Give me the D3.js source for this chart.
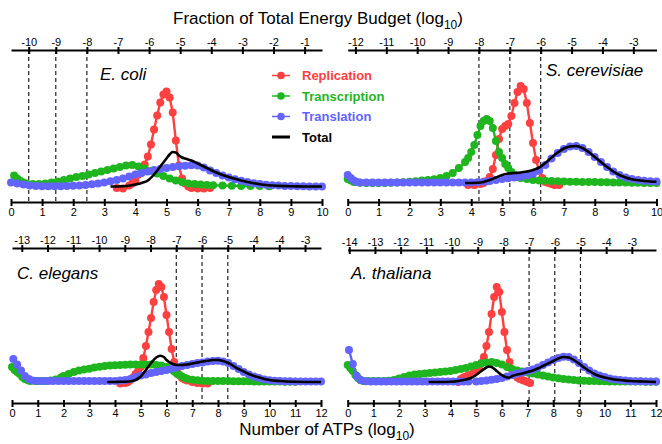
<!DOCTYPE html>
<html>
<head>
<meta charset="utf-8">
<script src="https://cdn.jsdelivr.net/npm/d3@7"></script>
<style>
body { margin: 0; background: #fff; }
text { font-family: Arial, "Liberation Sans", sans-serif; fill: #000; }
</style>
</head>
<body>
<svg id="svg"></svg>
<script>
var width = 662, height = 444;
var svg = d3.select("#svg").attr("width", width).attr("height", height);

var colors = {rep: "#ff4040", trans: "#1fb51f", transl: "#6363ff", total: "#000"};
var legendNames = ["Replication", "Transcription", "Translation", "Total"];

// E. coli  [log10 ATPs, relative density]
var ecoliRep = [[3.4,-1.5],[3.6,-2],[3.8,1],[3.9,3],[4.0,6],[4.1,12],[4.2,17],[4.3,22],[4.4,30],[4.5,42],[4.6,57],[4.7,71],[4.8,84],[4.9,92],[5.0,95],[5.1,89],[5.2,74],[5.3,46],[5.4,21],[5.5,8],[5.6,3],[5.7,0],[5.8,-1.5],[6.0,-2],[6.2,-2],[6.4,-1.5]];
var ecoliTrans = [[0.1,11],[0.2,8],[0.3,5.5],[0.4,4],[0.5,3],[0.7,2.5],[0.9,2.5],[1.1,3],[1.3,4],[1.5,5],[1.7,6.5],[1.9,8],[2.1,9.5],[2.3,10.5],[2.5,12],[2.7,13.5],[2.9,15],[3.1,16.5],[3.3,18],[3.5,19.5],[3.7,21],[3.9,21.5],[4.1,20],[4.3,18],[4.5,15.5],[4.7,13],[4.9,10.5],[5.1,8],[5.3,6],[5.5,4.5],[5.7,3],[5.9,2.5],[6.1,2],[6.3,1.5],[6.5,1.2],[6.8,1],[7.1,0.8],[7.4,0.6],[7.7,0.5],[8.0,0.4],[8.3,0.3]];
var ecoliTransl = [[0,4],[0.2,3],[0.4,2],[0.6,1],[0.8,0.5],[1.0,0.3],[1.2,0.3],[1.4,0.3],[1.6,0.3],[1.8,0.5],[2.0,0.7],[2.2,1],[2.4,1.5],[2.6,2.2],[2.8,3],[3.0,4],[3.2,5.3],[3.4,6.6],[3.6,8],[3.8,10],[4.0,12],[4.2,13.5],[4.4,15],[4.6,16.5],[4.8,17.5],[5.0,18.5],[5.2,19.5],[5.4,20.2],[5.6,20.8],[5.8,21.3],[6.0,21],[6.2,19],[6.4,16],[6.6,13.5],[6.8,11],[7.0,9],[7.2,7.3],[7.4,5.8],[7.6,4.5],[7.8,3.3],[8.0,2.4],[8.2,1.7],[8.4,1.2],[8.6,0.9],[8.8,0.6],[9.0,0.5],[9.2,0.3],[9.4,0.2],[9.6,0.1],[9.8,0],[10,0]];
var ecoliTotal = [[3.2,0],[3.6,0.3],[4.0,2],[4.2,3.5],[4.4,6],[4.6,12],[4.8,20],[5.0,28],[5.1,32],[5.2,34.5],[5.3,34],[5.4,31],[5.5,29],[5.6,28],[5.8,26],[6.0,23],[6.2,20],[6.4,17],[6.6,14],[6.8,11.5],[7.0,9.5],[7.2,7.7],[7.4,6],[7.6,4.5],[7.8,3.3],[8.0,2.3],[8.2,1.5],[8.4,1],[8.6,0.6],[8.8,0.4],[9.0,0.3],[9.5,0],[10,0]];

// S. cerevisiae
var scerRep = [[3.9,-2],[4.1,-2],[4.3,-1],[4.4,0],[4.5,2],[4.6,6],[4.7,14],[4.8,28],[4.9,44],[5.0,54],[5.1,57],[5.2,59],[5.3,67],[5.4,80],[5.5,91],[5.6,97],[5.7,94],[5.8,80],[5.9,60],[6.0,40],[6.1,23],[6.2,12],[6.3,5],[6.4,1],[6.5,0],[6.6,-1],[6.7,-2],[6.85,-2]];
var scerTrans = [[0,4],[0.1,2.5],[0.2,1],[0.4,0.3],[0.6,0],[0.8,0],[1.0,0],[1.2,0],[1.4,0.2],[1.6,0.5],[1.8,0.8],[2.0,1.2],[2.2,1.8],[2.4,2.4],[2.6,3],[2.8,3.8],[3.0,5],[3.2,7],[3.4,10],[3.6,15],[3.8,21],[3.9,25],[4.0,31],[4.1,38],[4.2,48],[4.3,57],[4.4,62],[4.5,64],[4.6,62],[4.7,55],[4.8,42],[4.9,31],[5.0,25],[5.1,19],[5.2,15],[5.3,11],[5.4,8],[5.5,6],[5.6,5],[5.8,4],[6.0,3],[6.2,2.5],[6.4,2.2],[6.6,2],[6.8,1.7],[7.0,1.5],[7.2,1.3],[7.4,1.2],[7.6,1.1],[7.8,1],[8.0,0.9],[8.2,0.8],[8.4,0.7],[8.6,0.6],[8.8,0.5],[9.0,0.4],[9.2,0.3],[9.4,0.2],[9.6,0.1],[9.8,0],[10,0]];
var scerTransl = [[0,8],[0.1,5],[0.2,2.5],[0.3,1],[0.4,0.5],[0.6,0.5],[0.8,0.5],[1.0,0.5],[1.2,0.5],[1.4,0.5],[1.6,0.5],[1.8,0.5],[2.0,0.5],[2.2,0.5],[2.4,0.5],[2.6,0.5],[2.8,0.5],[3.0,0.5],[3.2,0.5],[3.4,0.5],[3.6,0.5],[3.8,0.5],[4.0,0.5],[4.2,0.8],[4.4,1.2],[4.6,2],[4.8,3],[5.0,4],[5.2,4.8],[5.4,5.5],[5.6,6.2],[5.8,7.5],[6.0,9],[6.2,12.5],[6.4,18],[6.6,24.5],[6.8,30],[7.0,34],[7.2,36.5],[7.4,37],[7.6,35],[7.8,31],[8.0,26],[8.2,21],[8.4,16],[8.6,11.5],[8.8,8],[9.0,5.5],[9.2,4],[9.4,3],[9.6,2.3],[9.8,1.8],[10,1.5]];
var scerTotal = [[3.8,0],[4.2,0.3],[4.4,1],[4.6,3],[4.8,5.5],[5.0,8],[5.2,9.5],[5.4,10],[5.6,10.5],[5.8,11.5],[6.0,13],[6.2,15.5],[6.4,20],[6.6,25.5],[6.8,30.5],[7.0,34.5],[7.2,36.5],[7.4,37],[7.6,35],[7.8,31],[8.0,26],[8.2,21],[8.4,16],[8.6,11.5],[8.8,8],[9.0,5.5],[9.2,3.8],[9.4,2.7],[9.6,2],[9.8,1.5],[10,1.2]];

// C. elegans
var celeRep = [[4.2,-1.5],[4.4,-1],[4.5,0],[4.6,2],[4.7,4.5],[4.8,8],[4.9,11],[5.0,15],[5.1,24],[5.2,36],[5.3,50],[5.4,64],[5.5,80],[5.6,92],[5.7,98],[5.8,95],[5.9,85],[6.0,67],[6.1,50],[6.2,33],[6.3,20],[6.4,11],[6.5,7],[6.6,4],[6.7,2.5],[6.8,1.5],[7.0,0],[7.2,-1],[7.4,-1.5],[7.6,-1.5]];
var celeTrans = [[0,15],[0.1,12],[0.2,10],[0.3,8],[0.4,5],[0.5,3],[0.6,2],[0.7,1],[0.9,1],[1.1,1],[1.3,1],[1.5,1.5],[1.7,2.5],[1.9,4.5],[2.0,6],[2.2,8],[2.4,10],[2.6,11.5],[2.8,12.5],[3.0,13.3],[3.2,14.5],[3.4,15.3],[3.6,16],[3.8,16.5],[4.0,16.8],[4.2,17],[4.4,17.2],[4.6,17.4],[4.8,17.5],[5.0,17.5],[5.2,17.5],[5.4,17.5],[5.6,17],[5.8,16.5],[6.0,15],[6.1,14],[6.2,12.5],[6.3,10.5],[6.4,8.5],[6.5,7],[6.6,5.5],[6.7,4.3],[6.8,3.3],[7.0,2.3],[7.2,1.7],[7.4,1.3],[7.6,1.1],[7.8,1],[8.0,1],[8.2,0.9],[8.4,0.9],[8.6,0.8],[8.8,0.8],[9.0,0.7],[9.2,0.7],[9.4,0.6],[9.6,0.6],[9.8,0.5],[10.0,0.5],[10.2,0.4],[10.4,0.4],[10.6,0.3],[10.8,0.3],[11.0,0.3]];
var celeTransl = [[0.05,23],[0.2,17.5],[0.35,11.5],[0.5,6],[0.65,3],[0.8,1.5],[1.0,1],[1.2,1],[1.4,1],[1.6,1],[1.8,1],[2.0,1],[2.2,1],[2.4,1],[2.6,1],[2.8,1],[3.0,1],[3.2,1],[3.4,1],[3.6,1],[3.8,1],[4.0,1],[4.2,1.5],[4.4,2],[4.6,3],[4.8,5],[5.0,6.5],[5.2,7.5],[5.4,9],[5.6,10],[5.8,11],[6.0,12],[6.2,13.5],[6.4,14.5],[6.6,16],[6.8,17],[7.0,18],[7.2,19],[7.4,19.5],[7.6,20.5],[7.8,21],[8.0,21.3],[8.2,20.5],[8.4,19],[8.6,16],[8.8,13],[9.0,10],[9.2,7.5],[9.4,5.5],[9.6,4],[9.8,2.5],[10.0,1.7],[10.2,1.3],[10.4,1],[10.6,0.8],[10.8,0.7],[11.0,0.6],[11.2,0.6],[11.4,0.5],[11.6,0.5],[11.8,0.5],[12.0,0.5]];
var celeTotal = [[3.7,0],[4.0,0],[4.2,0.2],[4.4,0.3],[4.6,0.7],[4.8,2],[5.0,5.5],[5.2,12],[5.4,19],[5.6,24.5],[5.75,26.3],[5.9,25],[6.0,22],[6.2,18.5],[6.4,17],[6.6,17],[6.8,17.5],[7.0,18.5],[7.2,19.5],[7.4,20.5],[7.6,21.3],[7.8,22],[8.0,22],[8.2,21],[8.4,19],[8.6,16],[8.8,13],[9.0,10.5],[9.2,8],[9.4,6],[9.6,4.5],[9.8,3],[10.0,2],[10.4,1],[11.0,0.3],[12,0]];

// A. thaliana
var athaRep = [[4.3,0],[4.4,3],[4.5,4.5],[4.6,5.5],[4.7,6.5],[4.8,7.5],[4.9,9],[5.0,10.5],[5.1,14],[5.2,19],[5.3,25],[5.4,36],[5.5,50],[5.6,68],[5.7,85],[5.8,95],[5.9,90],[6.0,70],[6.1,50],[6.2,32],[6.3,20],[6.4,12],[6.5,7],[6.6,4.5],[6.7,3],[6.8,2],[6.9,1],[7.0,0],[7.1,-1]];
var athaTrans = [[0,17],[0.1,14],[0.2,11],[0.3,7],[0.4,4],[0.5,2],[0.6,1],[0.8,1],[1.0,1],[1.2,1],[1.4,1],[1.6,1.2],[1.8,2],[2.0,3.5],[2.2,5],[2.4,6.5],[2.6,7.5],[2.8,8],[3.0,8.5],[3.2,9],[3.4,9.5],[3.6,10],[3.8,10.5],[4.0,11],[4.2,12],[4.4,13],[4.6,14],[4.8,15.5],[5.0,17],[5.2,18.5],[5.4,19.5],[5.6,20],[5.8,19],[6.0,17.5],[6.2,15],[6.4,13],[6.6,11.5],[6.8,10.5],[7.0,9.5],[7.2,8.5],[7.4,7.5],[7.6,6.5],[7.8,5.5],[8.0,4.5],[8.2,3.8],[8.4,3],[8.6,2.5],[8.8,2],[9.0,1.5],[9.2,1.2],[9.4,1],[9.6,0.9],[9.8,0.8],[10.0,0.7],[10.2,0.6],[10.4,0.6],[10.6,0.5],[10.8,0.5],[11.0,0.5],[11.2,0.4],[11.4,0.4],[11.6,0.3],[11.8,0.3],[12.0,0.3]];
var athaTransl = [[0.05,32],[0.2,18],[0.35,6],[0.5,2],[0.7,0.7],[0.9,0.5],[1.1,0.5],[1.3,0.5],[1.5,0.5],[1.7,0.5],[1.9,0.5],[2.1,0.5],[2.3,0.5],[2.5,0.5],[2.7,0.5],[2.9,0.5],[3.1,0.5],[3.3,0.5],[3.5,0.5],[3.7,0.5],[3.9,0.5],[4.1,0.5],[4.3,0.5],[4.5,0.5],[4.7,0.5],[5.0,0.5],[5.2,1],[5.4,1.5],[5.6,2.3],[5.8,3],[6.0,4],[6.2,5.5],[6.4,7],[6.6,8.5],[6.8,9.5],[7.0,11],[7.2,12.5],[7.4,14.5],[7.6,17],[7.8,19.5],[8.0,22],[8.2,24],[8.4,25.3],[8.6,25],[8.8,22.5],[9.0,19],[9.2,15],[9.4,11.5],[9.6,8.5],[9.8,6.5],[10.0,5],[10.2,3.5],[10.4,2.5],[10.6,2],[10.8,1.5],[11.0,1],[11.2,0.8],[11.4,0.7],[11.6,0.6],[11.8,0.5],[12.0,0.5]];
var athaTotal = [[3.15,0],[3.5,0],[4.0,0.3],[4.3,1],[4.6,2.5],[4.8,4],[5.0,7],[5.2,11],[5.4,14.5],[5.5,15.5],[5.6,15],[5.8,11],[6.0,7],[6.2,4.5],[6.3,4.5],[6.4,6],[6.6,7.5],[6.8,8.5],[7.0,10],[7.2,11.5],[7.4,13.5],[7.6,16],[7.8,18.5],[8.0,21],[8.2,23.5],[8.4,25],[8.6,24.5],[8.8,22],[9.0,18.5],[9.2,14.5],[9.4,11],[9.6,8],[9.8,6],[10.0,4.5],[10.2,3.5],[10.4,2.5],[10.6,2],[11.0,1],[11.5,0.5],[12,0]];

// top axis (fraction of energy budget, log10) tick positions & labels
var ecoliTopTicks = [-9.87,-9,-8,-7,-6,-5,-4,-3,-2,-1];
var ecoliTopLabels = ["-10","-9","-8","-7","-6","-5","-4","-3","-2","-1"];
var scerTopTicks = [-12,-11,-10,-9,-8,-7,-6,-5,-4,-3];
var celeTopTicks = [-13,-12,-11,-10,-9,-8,-7,-6,-5,-4,-3,-2];
var celeTopLabels = ["-13","-12","-11","-10","-9","-8","-7","-6","-5","-4","-4","-3"];
var athaTopTicks = [-14,-13,-12,-11,-10,-9,-8,-7,-6,-5,-4,-3];
// offset between the two scales (log10 total budget)
var ecoliOffset = 10.44, scerOffset = 12.25, celeOffset = 13.38, athaOffset = 14.06;
var ecoliDashes = [-9.87,-9,-8], scerDashes = [-8,-7,-6], celeDashes = [-7,-6,-5], athaDashes = [-7,-6,-5];

var panels = [
	{name: "E. coli", series: [ecoliRep, ecoliTrans, ecoliTransl, ecoliTotal], xMax: 10, topTicks: ecoliTopTicks, topLabels: ecoliTopLabels, offset: ecoliOffset, dashes: ecoliDashes,
	 x0: 11, x1: 322, top: 50, bottom: 202, base: 186.5, lx: 100, ly: 80},
	{name: "S. cerevisiae", series: [scerRep, scerTrans, scerTransl, scerTotal], xMax: 10, topTicks: scerTopTicks, topLabels: null, offset: scerOffset, dashes: scerDashes,
	 x0: 347.7, x1: 656.5, top: 50, bottom: 202, base: 183, lx: 546, ly: 76},
	{name: "C. elegans", series: [celeRep, celeTrans, celeTransl, celeTotal], xMax: 12, topTicks: celeTopTicks, topLabels: celeTopLabels, offset: celeOffset, dashes: celeDashes,
	 x0: 12, x1: 321, top: 248, bottom: 403, base: 382, lx: 17, ly: 279},
	{name: "A. thaliana", series: [athaRep, athaTrans, athaTransl, athaTotal], xMax: 12, topTicks: athaTopTicks, topLabels: null, offset: athaOffset, dashes: athaDashes,
	 x0: 347.7, x1: 656, top: 250, bottom: 403, base: 382, lx: 351, ly: 279}
];

var keys = ["rep", "trans", "transl", "total"];

panels.forEach(function(p) {
	var g = svg.append("g");
	var x = d3.scaleLinear().domain([0, p.xMax]).range([p.x0, p.x1]);
	var xTop = d3.scaleLinear().domain([-p.offset, p.xMax - p.offset]).range([p.x0, p.x1]);
	var y = d3.scaleLinear().domain([0, 100]).range([p.base, p.base - 100]);

	// dashed reference lines
	g.selectAll("line.dash")
		.data(p.dashes)
		.enter().append("line")
		.attr("class", "dash")
		.attr("x1", function(d) { return xTop(d); })
		.attr("x2", function(d) { return xTop(d); })
		.attr("y1", p.top)
		.attr("y2", p.bottom)
		.attr("stroke", "#222")
		.attr("stroke-width", 1.2)
		.attr("stroke-dasharray", "4,3");

	var line = d3.line()
		.x(function(d) { return x(d[0]); })
		.y(function(d) { return y(d[1]); });

	p.series.forEach(function(s, i) {
		var key = keys[i];
		if (key == "total") {
			g.append("path")
				.datum(s)
				.attr("d", line.curve(d3.curveMonotoneX))
				.attr("fill", "none")
				.attr("stroke", colors.total)
				.attr("stroke-width", 2.6);
			return;
		}
		g.append("path")
			.datum(s)
			.attr("d", line.curve(d3.curveLinear))
			.attr("fill", "none")
			.attr("stroke", colors[key])
			.attr("stroke-width", 2.4);
		g.append("g")
			.selectAll("circle")
			.data(s)
			.enter().append("circle")
			.attr("cx", function(d) { return x(d[0]); })
			.attr("cy", function(d) { return y(d[1]); })
			.attr("r", 4)
			.attr("fill", colors[key]);
	});

	// bottom axis
	var bAxis = g.append("g")
		.attr("transform", "translate(0," + p.bottom + ")")
		.call(d3.axisBottom(x).tickValues(d3.range(0, p.xMax + 1)).tickSizeOuter(0));
	// top axis
	var tAxis = g.append("g")
		.attr("transform", "translate(0," + p.top + ")")
		.call(d3.axisTop(xTop).tickValues(p.topTicks).tickSizeOuter(0)
			.tickFormat(function(d, i) { return p.topLabels ? p.topLabels[i] : d; }));

	[bAxis, tAxis].forEach(function(a) {
		a.select(".domain").attr("stroke", "#000").attr("stroke-width", 2);
		a.selectAll(".tick line").attr("y1", -3).attr("y2", 4).attr("stroke", "#000").attr("stroke-width", 2);
		a.selectAll(".tick text").attr("font-size", 11).attr("font-family", "Arial, 'Liberation Sans', sans-serif");
	});
	bAxis.selectAll(".tick text").attr("y", 14).attr("dy", 0);
	tAxis.selectAll(".tick text").attr("y", -4).attr("dy", 0);

	g.append("text")
		.attr("x", p.lx)
		.attr("y", p.ly)
		.attr("font-size", 17)
		.attr("font-style", "italic")
		.text(p.name);
});

// legend
var legend = svg.append("g")
	.selectAll("g")
	.data(keys)
	.enter().append("g")
	.attr("transform", function(d, i) { return "translate(0," + (75.5 + i * 20.5) + ")"; });

legend.append("line")
	.attr("x1", 272).attr("x2", 290)
	.attr("stroke", function(d) { return colors[d]; })
	.attr("stroke-width", function(d) { return d == "total" ? 3 : 1.5; });

legend.filter(function(d) { return d != "total"; })
	.append("circle")
	.attr("cx", 281)
	.attr("r", 3.8)
	.attr("fill", function(d) { return colors[d]; });

legend.append("text")
	.attr("x", 302)
	.attr("y", 4.6)
	.attr("font-size", 13)
	.attr("font-weight", "bold")
	.style("fill", function(d) { return colors[d]; })
	.text(function(d, i) { return legendNames[i]; });

// titles
var t1 = svg.append("text")
	.attr("x", 318).attr("y", 24)
	.attr("font-size", 17)
	.attr("text-anchor", "middle");
t1.append("tspan").text("Fraction of Total Energy Budget (log");
t1.append("tspan").attr("font-size", 12).attr("dy", 5).text("10");
t1.append("tspan").attr("dy", -5).text(")");

var t2 = svg.append("text")
	.attr("x", 327).attr("y", 435)
	.attr("font-size", 17)
	.attr("text-anchor", "middle");
t2.append("tspan").text("Number of ATPs (log");
t2.append("tspan").attr("font-size", 12).attr("dy", 5).text("10");
t2.append("tspan").attr("dy", -5).text(")");
</script>
</body>
</html>
